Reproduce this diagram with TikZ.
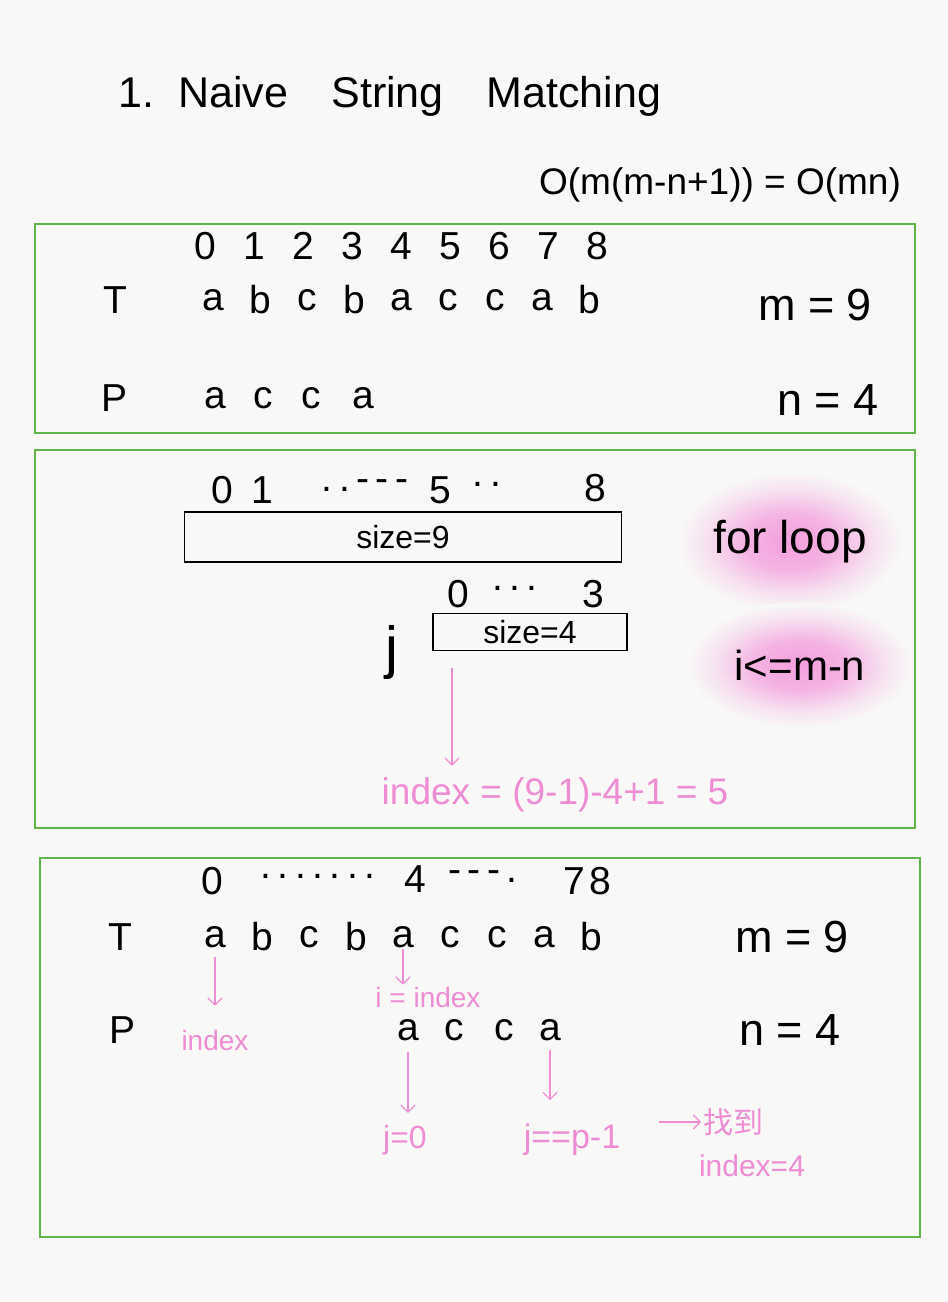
\documentclass[tikz,border=0pt]{standalone}
\usepackage{fontspec}
\setmainfont{Liberation Sans}
\newfontfamily\cjk{Noto Sans CJK SC}
\usetikzlibrary{arrows.meta, shapes.geometric, positioning}

\definecolor{paper}{RGB}{248,248,247}
\definecolor{boxgreen}{RGB}{96,180,74}
\definecolor{inkpink}{RGB}{238,140,212}
\definecolor{glowpink}{RGB}{240,105,205}
\pgfdeclareradialshading{pinkglow}{\pgfpoint{0bp}{0bp}}{%
    color(0bp)=(glowpink!62!paper); color(10bp)=(glowpink!48!paper);
    color(19bp)=(glowpink!15!paper); color(25bp)=(paper); color(50bp)=(paper)}

\begin{document}
\begin{tikzpicture}[
        x = 1pt, y = -1pt,
        node distance = 47pt,
        on grid,
        >= {Straight Barb[round, scale = 1.8]},
        frame/.style = {draw = boxgreen, line width = 1.6pt},
        ink/.style = {font = \fontsize{39}{39}\selectfont, inner sep = 1pt},
        big ink/.style = {font = \fontsize{45}{45}\selectfont, inner sep = 1pt},
        pink ink/.style = {text = inkpink, font = \fontsize{30}{30}\selectfont, inner sep = 2pt},
        pink arrow/.style = {->, draw = inkpink, line width = 1.2pt},
        cell/.style = {draw, line width = 1.8pt, inner sep = 0pt,
                       font = \fontsize{32}{32}\selectfont},
        glow/.style = {ellipse, shading = pinkglow, inner sep = 0pt,
                       font = \fontsize{46}{46}\selectfont}
    ]

    \fill[paper] (0,0) rectangle (948,1302);

    % heading
    \node[big ink, font = \fontsize{43}{43}\selectfont] (title) at (390,96) {1.\ \ Naive\quad String\quad Matching};
    \node[ink, font = \fontsize{37}{37}\selectfont] (cost) at (720,185) {O(m(m-n+1)) = O(mn)};

    % --- text and pattern
    \draw[frame] (35,224) rectangle (915,433);

    \node[ink] (k0) at (205,246) {0};
    \node[ink] (k1) [right = 49pt of k0] {1};
    \node[ink] (k2) [right = 49pt of k1] {2};
    \node[ink] (k3) [right = 49pt of k2] {3};
    \node[ink] (k4) [right = 49pt of k3] {4};
    \node[ink] (k5) [right = 49pt of k4] {5};
    \node[ink] (k6) [right = 49pt of k5] {6};
    \node[ink] (k7) [right = 49pt of k6] {7};
    \node[ink] (k8) [right = 49pt of k7] {8};

    \node[ink] (T) at (115,300) {T};
    \node[ink] (t0) at (213,300) {a};
    \node[ink] (t1) [right = of t0] {b};
    \node[ink] (t2) [right = of t1] {c};
    \node[ink] (t3) [right = of t2] {b};
    \node[ink] (t4) [right = of t3] {a};
    \node[ink] (t5) [right = of t4] {c};
    \node[ink] (t6) [right = of t5] {c};
    \node[ink] (t7) [right = of t6] {a};
    \node[ink] (t8) [right = of t7] {b};
    \node[big ink] (m) at (815,305) {m = 9};

    \node[ink] (P) at (115,398) {P};
    \node[ink] (p0) at (215,398) {a};
    \node[ink] (p1) [right = 48pt of p0] {c};
    \node[ink] (p2) [right = 48pt of p1] {c};
    \node[ink] (p3) [right = 52pt of p2] {a};
    \node[big ink] (n) at (828,400) {n = 4};

    % --- loop bound
    \node[glow, minimum width = 225pt, minimum height = 140pt] (forloop) at (790,542) {for loop};
    \node[glow, minimum width = 225pt, minimum height = 125pt,
          font = \fontsize{42}{42}\selectfont] (bound) at (800,665) {i<=m-n};
    \draw[frame] (35,450) rectangle (915,828);

    \node[ink] (s0) at (222,490) {0};
    \node[ink] (s1) [right = 40pt of s0] {1};
    \node[ink] (sgap) at (365,486) {.\,.\,-\,-\,-};
    \node[ink] (s5) at (440,490) {5};
    \node[ink] (sgap2) at (487,484) {.\,.};
    \node[ink] (s8) at (595,488) {8};
    \node[cell, minimum width = 437pt, minimum height = 50pt] (whole) at (403,537) {size=9};

    \node[ink] (r0) at (458,594) {0};
    \node[ink] (rgap) at (515,588) {.\,.\,.};
    \node[ink] (r3) at (593,594) {3};
    \node[cell, minimum width = 194pt, minimum height = 37pt] (part) at (530,632) {size=4};
    \node[big ink, font = \fontsize{58}{58}\selectfont] (j) at (392,652) {j};

    \node[pink ink, font = \fontsize{37}{37}\selectfont] (formula) at (555,795) {index = (9-1)-4+1 = 5};
    \coordinate (drop) at (452,668);
    \draw[pink arrow, shorten >= 10pt] (drop) -- (drop |- formula.north);

    % --- found at index 4
    \draw[frame] (40,858) rectangle (920,1237);

    \node[ink] (h0) at (212,881) {0};
    \node[ink] (hgap) at (318,876) {.\,.\,.\,.\,.\,.\,.};
    \node[ink] (h4) at (415,879) {4};
    \node[ink] (hgap2) at (483,877) {-\,-\,-\,.};
    \node[ink] (h7) at (574,881) {7};
    \node[ink] (h8) at (600,881) {8};

    \node[ink] (T2) at (120,937) {T};
    \node[ink] (u0) at (215,937) {a};
    \node[ink] (u1) [right = of u0] {b};
    \node[ink] (u2) [right = of u1] {c};
    \node[ink] (u3) [right = of u2] {b};
    \node[ink] (u4) [right = of u3] {a};
    \node[ink] (u5) [right = of u4] {c};
    \node[ink] (u6) [right = of u5] {c};
    \node[ink] (u7) [right = of u6] {a};
    \node[ink] (u8) [right = of u7] {b};
    \node[big ink] (m2) at (792,937) {m = 9};

    \node[pink ink, font = \fontsize{28}{28}\selectfont] (start) at (215,1040) {index};
    \node[pink ink, font = \fontsize{28}{28}\selectfont] (ipos) at (428,997) {i = index};
    \draw[pink arrow, shorten >= 22pt] (u0.south) ++(0,8) -- (start.north);
    \draw[pink arrow] (u4.south) -- (ipos.north -| u4);

    \node[ink] (P2) at (123,1030) {P};
    \node[ink] (q0) at (408,1030) {a};
    \node[ink] (q1) [right = 46pt of q0] {c};
    \node[ink] (q2) [right = 50pt of q1] {c};
    \node[ink] (q3) [right = 46pt of q2] {a};
    \node[big ink] (n2) at (790,1030) {n = 4};

    \node[pink ink, font = \fontsize{32}{32}\selectfont] (jfirst) at (405,1140) {j=0};
    \node[pink ink, font = \fontsize{34}{34}\selectfont] (jlast) at (572,1140) {j==p-1};
    \node[pink ink, font = \fontsize{30}{30}\cjk] (found) at (733,1122) {找到};
    \node[pink ink] (foundat) at (752,1166) {index=4};
    \draw[pink arrow, shorten >= 10pt] (q0.south) ++(0,10) -- (q0 |- jfirst.north);
    \draw[pink arrow, shorten >= 22pt] (q3.south) ++(0,8) -- (q3 |- jlast.north);
    \draw[pink arrow] ([xshift = -42pt] found.west) -- (found.west);

\end{tikzpicture}
\end{document}
